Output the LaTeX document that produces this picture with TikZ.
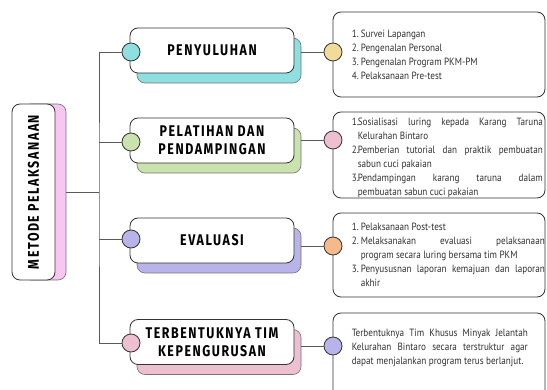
\documentclass[tikz,border=0pt]{standalone}
\usepackage{fontspec}
\usepackage{tikz}
\usetikzlibrary{calc,positioning}
\newfontfamily\catfont{Fira Sans}[FakeStretch=0.8,LetterSpace=10]
\newfontfamily\detfont{PT Sans}[FakeStretch=0.87]
\definecolor{cy}{HTML}{8FDFE0}
\definecolor{gr}{HTML}{C9E2AE}
\definecolor{lv}{HTML}{B8B4EA}
\definecolor{pk}{HTML}{EDBFD1}
\definecolor{tn}{HTML}{F2DB9A}
\definecolor{og}{HTML}{F5B98A}
\definecolor{mg}{HTML}{F9C6F2}
\definecolor{ln}{HTML}{5A5A5A}
\definecolor{tx}{HTML}{303030}
\tikzstyle{cat}=[draw=black!80,line width=.8pt,fill=white,rounded corners=8pt,minimum width=164pt,minimum height=45pt,inner sep=0pt,align=center,font=\catfont\bfseries\fontsize{15.5}{18}\selectfont]
\tikzstyle{catsh}=[draw=black!55,line width=.6pt,rounded corners=8pt,minimum width=164pt,minimum height=45pt]
\tikzstyle{root}=[draw=black!80,line width=.8pt,fill=white,rounded corners=8pt,minimum width=43pt,minimum height=176pt,inner sep=0pt,font=\catfont\bfseries\fontsize{15.5}{18}\selectfont]
\tikzstyle{rootsh}=[draw=black!55,line width=.6pt,fill=mg,rounded corners=8pt,minimum width=43pt,minimum height=176pt]
\tikzstyle{dot}=[circle,draw=black!80,line width=.8pt,minimum size=18pt,inner sep=0pt]
\tikzstyle{det}=[draw=black!80,line width=.8pt,rounded corners=8pt,minimum width=212pt]
\tikzstyle{dtxt}=[inner sep=0pt,align=left,text=tx,font=\detfont\fontsize{10.5}{14}\selectfont]
\tikzstyle{link}=[draw=ln,line width=.8pt]
\newcommand{\jl}[2]{\makebox[#1][s]{#2}}
\newcommand{\nm}[2]{\makebox[#1][l]{#2}}

\begin{document}
\begin{tikzpicture}[x=1pt,y=-1pt]
	\clip (0,0) rectangle (547,390);
	\fill[white] (0,0) rectangle (547,390);

	\node[rootsh] (rsh) at (44.5,192) {};
	\node[root] (rt) at (33.5,192) {\rotatebox{90}{METODE PELAKSANAAN}};

	\node[det,minimum height=85pt] (d1) at (439,54.5) {};
	\node[det,minimum height=86pt] (d2) at (439,155) {};
	\node[det,minimum height=84pt] (d3) at (439,255) {};
	\node[det,minimum height=120pt] (d4) at (439,373) {};

	\node[dtxt,right=19pt of d1.west] (t1) {\nm{9pt}{1.}Survei Lapangan\\\nm{9pt}{2.}Pengenalan Personal\\\nm{9pt}{3.}Pengenalan Program PKM-PM\\\nm{9pt}{4.}Pelaksanaan Pre-test};
	\node[dtxt,right=19pt of d2.west,yshift=-2.5pt] (t2) {\nm{6pt}{1.}\jl{185pt}{Sosialisasi luring kepada Karang Taruna}\\\hspace*{6pt}Kelurahan Bintaro\\\nm{6pt}{2.}\jl{185pt}{Pemberian tutorial dan praktik pembuatan}\\\hspace*{6pt}sabun cuci pakaian\\\nm{6pt}{3.}\jl{185pt}{Pendampingan karang taruna dalam}\\\hspace*{6pt}pembuatan sabun cuci pakaian};
	\node[dtxt,right=19pt of d3.west] (t3) {\nm{9pt}{1.}Pelaksanaan Post-test\\\nm{9pt}{2.}\jl{184pt}{Melaksanakan evaluasi pelaksanaan}\\\hspace*{9pt}program secara luring bersama tim PKM\\\nm{9pt}{3.}\jl{184pt}{Penyususnan laporan kemajuan dan laporan}\\\hspace*{9pt}akhir};
	\node[dtxt,below right=16pt and 19pt of d4.north west] (t4) {\jl{176pt}{Terbentuknya Tim Khusus Minyak Jelantah}\\\jl{176pt}{Kelurahan Bintaro secara terstruktur agar}\\dapat menjalankan program terus berlanjut.};

	\node[catsh,fill=cy] (s1) at (219,60.5) {};
	\node[cat] (c1) at (212,50.5) {PENYULUHAN};
	\node[catsh,fill=gr] (s2) at (219,150.5) {};
	\node[cat] (c2) at (212,140.5) {PELATIHAN DAN\\PENDAMPINGAN};
	\node[catsh,fill=lv] (s3) at (219,250.5) {};
	\node[cat] (c3) at (212,240.5) {EVALUASI};
	\node[catsh,fill=pk] (s4) at (219,352) {};
	\node[cat] (c4) at (212,342) {TERBENTUKNYA TIM\\KEPENGURUSAN};

	\node[dot,fill=cy] (l1) at (131,52) {};
	\node[dot,fill=gr] (l2) at (131,142) {};
	\node[dot,fill=lv] (l3) at (131,239) {};
	\node[dot,fill=pk] (l4) at (131,343) {};
	\node[dot,fill=tn] (r1) at (333,52) {};
	\node[dot,fill=pk] (r2) at (333,140) {};
	\node[dot,fill=og] (r3) at (333,246) {};
	\node[dot,fill=lv] (r4) at (333,346) {};

	\coordinate (tr) at (99,192);
	\draw[link] (l1.west) -| (tr) |- (l4.west);
	\draw[link] (l2.west) -- (l2.west -| tr);
	\draw[link] (l3.west) -- (l3.west -| tr);
	\draw[link] (rsh.east) -- (tr);
	\draw[link] (s1.east |- r1) -- (r1.west);
	\draw[link] (s2.east |- r2) -- (r2.west);
	\draw[link] (s3.east |- r3) -- (r3.west);
	\draw[link] (s4.east |- r4) -- (r4.west);
\end{tikzpicture}
\end{document}
